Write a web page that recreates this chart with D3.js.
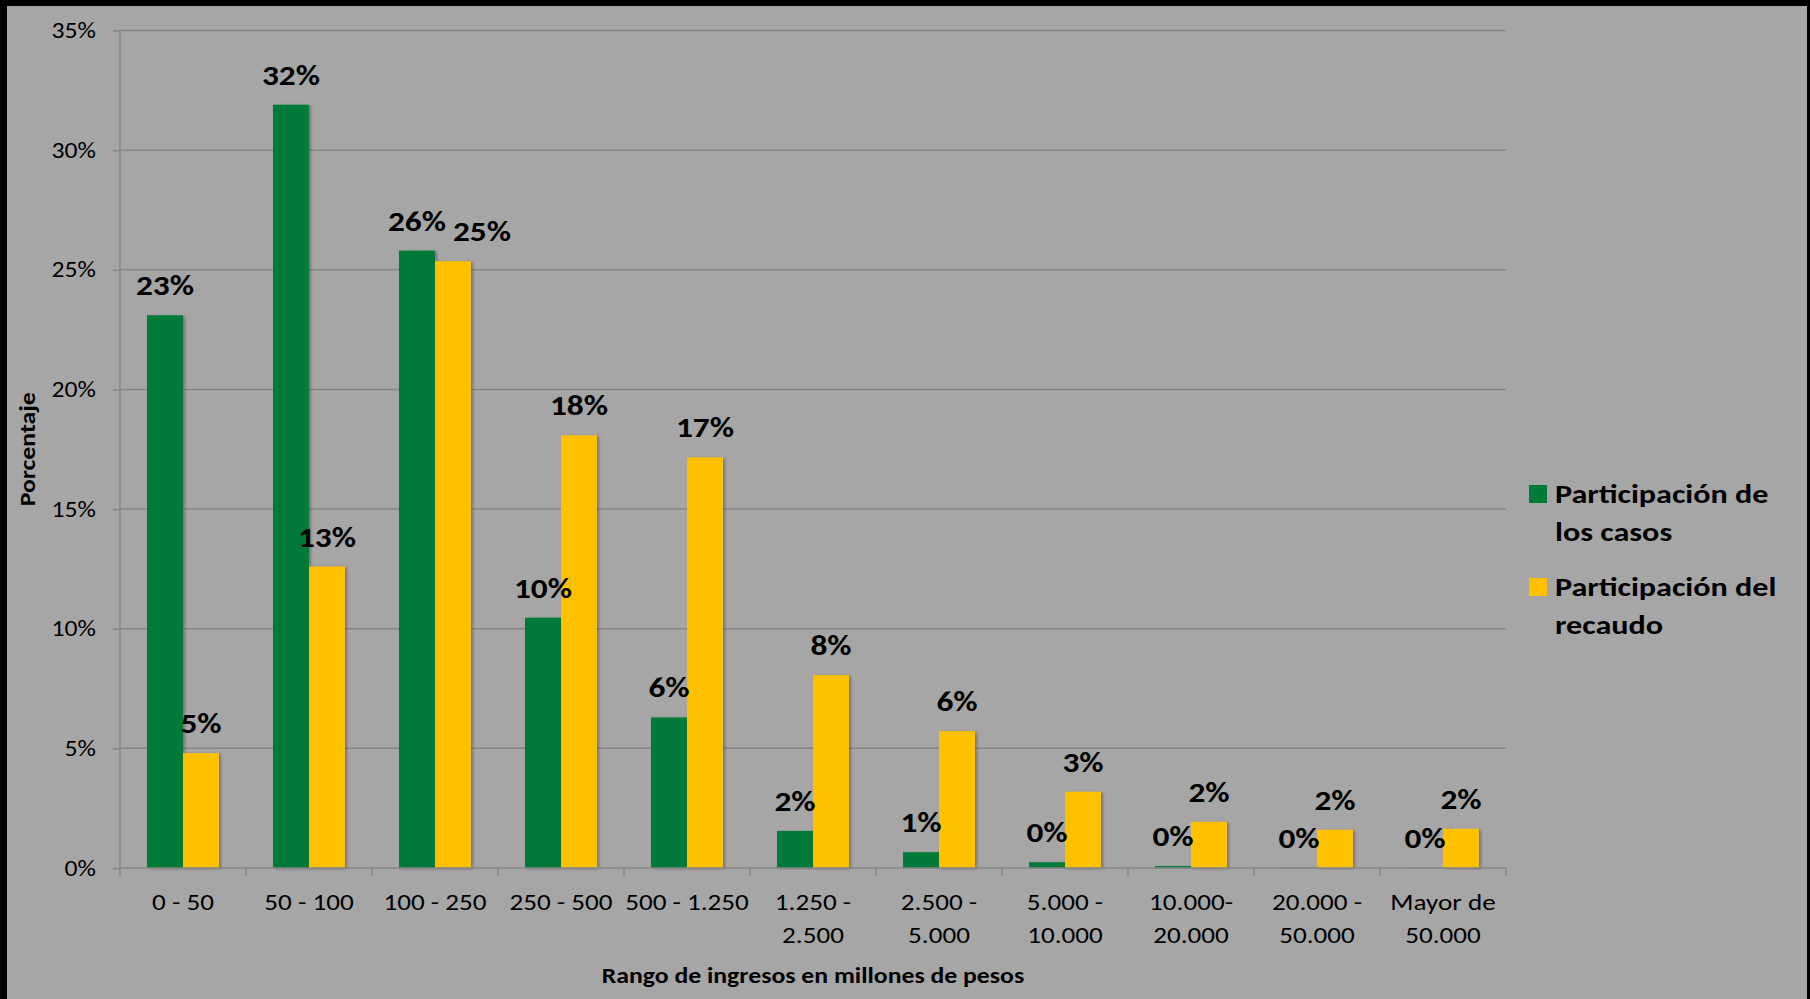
<!DOCTYPE html>
<html>
<head>
<meta charset="utf-8">
<style>
  body { margin: 0; background: #000; }
  svg text { font-family: Carlito, Calibri, Lato, sans-serif; fill: #000; }
  .tick text { font-size: 22px; }
  .lbl { font-size: 28px; font-weight: bold; }
</style>
</head>
<body>
<script src="https://d3js.org/d3.v7.min.js"></script>
<div id="chart"></div>
<script>
// categories (income ranges) and the two series, in percent
var categories = ["0 - 50", "50 - 100", "100 - 250", "250 - 500", "500 - 1.250",
  "1.250 - 2.500", "2.500 - 5.000", "5.000 - 10.000", "10.000-20.000",
  "20.000 - 50.000", "Mayor de 50.000"];
// how each category label is broken in lines
var catLines = [["0 - 50"], ["50 - 100"], ["100 - 250"], ["250 - 500"], ["500 - 1.250"],
  ["1.250 -", "2.500"], ["2.500 -", "5.000"], ["5.000 -", "10.000"], ["10.000-", "20.000"],
  ["20.000 -", "50.000"], ["Mayor de", "50.000"]];
var casos   = [23.1, 31.9, 25.8, 10.46, 6.29, 1.55, 0.66, 0.24, 0.08, 0.02, 0.01];
var recaudo = [4.8, 12.6, 25.36, 18.08, 17.16, 8.06, 5.72, 3.19, 1.93, 1.6, 1.64];
var seriesNames = ["Participación de los casos", "Participación del recaudo"];
var legendLines = [["Participación de", "los casos"], ["Participación del", "recaudo"]];
var yTicks = [0, 5, 10, 15, 20, 25, 30, 35];

var width = 1810, height = 999;
var margin = {left: 120, right: 304, top: 30.5, bottom: 131};
var colors = ["#007A37", "#FFC000"];
// the original font runs wider than Lato, so text is stretched sideways
var sx = 1.18;

var svg = d3.select("#chart").append("svg")
  .attr("width", width).attr("height", height);

// black frame, grey chart area
svg.append("rect").attr("width", width).attr("height", height).attr("fill", "#000");
svg.append("rect").attr("x", 7).attr("y", 6).attr("width", 1800).attr("height", 993).attr("fill", "#A6A6A6");

var defs = svg.append("defs");
defs.append("filter").attr("id", "shadow").attr("x", "-20%").attr("y", "-5%").attr("width", "140%").attr("height", "110%")
  .append("feDropShadow").attr("dx", 2).attr("dy", 1).attr("stdDeviation", 1.5)
  .attr("flood-color", "#000").attr("flood-opacity", 0.3);

var x0 = d3.scaleBand().domain(categories).range([margin.left, width - margin.right]).padding(0);
var x1 = d3.scaleBand().domain([0, 1]).range([0, x0.bandwidth()]).paddingInner(0).paddingOuter(0.75);
var y = d3.scaleLinear().domain([0, 35]).range([height - margin.bottom, margin.top]);

// gridlines
svg.append("g").selectAll("line").data(yTicks.slice(1)).join("line")
  .attr("x1", margin.left).attr("x2", width - margin.right)
  .attr("y1", d => y(d)).attr("y2", d => y(d))
  .attr("stroke", "#868686").attr("stroke-width", 1.5);

// y axis
var yAxis = svg.append("g").attr("transform", "translate(" + margin.left + ",0)")
  .call(d3.axisLeft(y).tickValues(yTicks).tickFormat(d => d + "%").tickSize(7).tickPadding(17));
yAxis.selectAll("line, path").attr("stroke", "#868686").attr("stroke-width", 1.5);
yAxis.select(".domain").attr("d", "M0," + y(35) + "V" + y(0));
yAxis.selectAll(".tick text").attr("fill", "#000")
  .attr("x", 0).attr("transform", "translate(-24,0) scale(1.17,1)");

// bars
var rows = categories.map((c, i) => ({cat: c, vals: [casos[i], recaudo[i]]}));
var groups = svg.append("g").selectAll("g").data(rows).join("g")
  .attr("transform", d => "translate(" + x0(d.cat) + ",0)");
groups.selectAll("rect").data(d => d.vals).join("rect")
  .attr("x", (d, i) => x1(i)).attr("width", x1.bandwidth())
  .attr("y", d => y(d)).attr("height", d => y(0) - y(d))
  .attr("fill", (d, i) => colors[i])
  .attr("filter", "url(#shadow)");

// x axis with ticks at category boundaries
var xAxis = svg.append("g");
xAxis.append("line").attr("x1", margin.left).attr("x2", width - margin.right)
  .attr("y1", y(0)).attr("y2", y(0)).attr("stroke", "#868686").attr("stroke-width", 1.5);
var bounds = categories.map(c => x0(c)).concat([width - margin.right]);
xAxis.selectAll(".xt").data(bounds).join("line").attr("class", "xt")
  .attr("x1", d => d).attr("x2", d => d).attr("y1", y(0)).attr("y2", y(0) + 8)
  .attr("stroke", "#868686").attr("stroke-width", 1.5);
xAxis.selectAll(".xl").data(categories).join("text").attr("class", "xl")
  .attr("text-anchor", "middle").style("font-size", "23px")
  .attr("transform", d => "translate(" + (x0(d) + x0.bandwidth() / 2) + ",910) scale(" + sx + ",1)")
  .each(function(d, i) {
    var t = d3.select(this);
    catLines[i].forEach((ln, k) => {
      t.append("tspan").attr("x", 0).attr("y", k * 33).text(ln);
    });
  });

// data labels; the 25% label of 100 - 250 was moved off its neighbour in the original
groups.selectAll("text").data(d => d.vals.map((v, i) => ({v: v, i: i, cat: d.cat}))).join("text")
  .attr("class", "lbl").attr("text-anchor", "middle")
  .attr("transform", d => {
    var nudge = (d.cat === "100 - 250" && d.i === 1) ? 29 : 0;
    return "translate(" + (x1(d.i) + x1.bandwidth() / 2 + nudge) + "," + (y(d.v) - 20) + ") scale(1.19,1)";
  })
  .text(d => Math.round(d.v) + "%");

// axis titles
svg.append("text").attr("text-anchor", "middle")
  .attr("transform", "translate(" + (margin.left + width - margin.right) / 2 + ",983) scale(1.17,1)")
  .style("font-size", "22px").style("font-weight", "bold")
  .text("Rango de ingresos en millones de pesos");
svg.append("text").attr("text-anchor", "middle")
  .attr("transform", "translate(35," + (y(0) + y(35)) / 2 + ") rotate(-90) scale(1.17,1)")
  .style("font-size", "22px").style("font-weight", "bold")
  .text("Porcentaje");

// legend
var legend = svg.append("g").selectAll("g").data(seriesNames).join("g")
  .attr("transform", (d, i) => "translate(1529," + (485 + i * 93) + ")");
legend.append("rect").attr("width", 18).attr("height", 18).attr("fill", (d, i) => colors[i]);
legend.append("text").style("font-size", "27px").style("font-weight", "bold")
  .attr("transform", "translate(26,18) scale(1.19,1)")
  .each(function(d, i) {
    var t = d3.select(this);
    legendLines[i].forEach((ln, k) => {
      t.append("tspan").attr("x", 0).attr("y", k * 38.5).text(ln);
    });
  });
</script>
</body>
</html>
